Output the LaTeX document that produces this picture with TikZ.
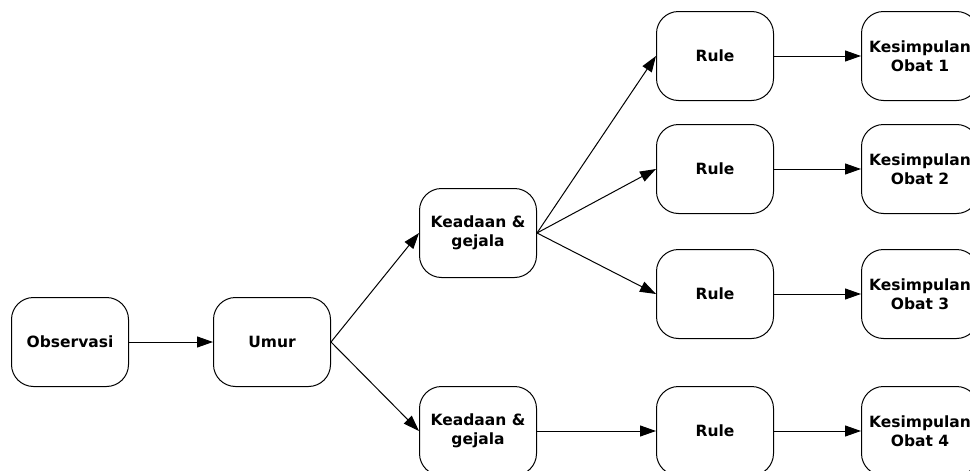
\documentclass[tikz,border=0pt]{standalone}
\usepackage{fontspec}
\setmainfont{DejaVu Sans}
\usetikzlibrary{arrows.meta}
\begin{document}
\begin{tikzpicture}[x=1pt,y=-1pt,
  box/.style={draw=black, line width=1pt, rounded corners=22pt,
    minimum width=117pt, minimum height=89pt, align=center,
    font=\bfseries\fontsize{15.5}{19}\selectfont, inner sep=0pt},
  arr/.style={draw=black, line width=1pt, -{Triangle[length=16pt,width=11pt]}}]
\useasboundingbox (0,0) rectangle (970,471);
\node[box] (obs) at (70,342) {Observasi};
\node[box] (umur) at (272,342) {Umur};
\node[box] (k1) at (478,233) {Keadaan \&\\gejala};
\node[box] (k2) at (478,431) {Keadaan \&\\gejala};
\node[box] (r1) at (715,56) {Rule};
\node[box] (r2) at (715,169) {Rule};
\node[box] (r3) at (715,294) {Rule};
\node[box] (r4) at (715,431) {Rule};
\node[box] (s1) at (920,56) {Kesimpulan\\Obat 1};
\node[box] (s2) at (920,169) {Kesimpulan\\Obat 2};
\node[box] (s3) at (920,294) {Kesimpulan\\Obat 3};
\node[box] (s4) at (920,431) {Kesimpulan\\Obat 4};
\draw[arr] (obs.east) -- (umur.west);
\draw[arr] (umur.east) -- (k1.west);
\draw[arr] (umur.east) -- (k2.west);
\draw[arr] (k1.east) -- (r1.west);
\draw[arr] (k1.east) -- (r2.west);
\draw[arr] (k1.east) -- (r3.west);
\draw[arr] (k2.east) -- (r4.west);
\draw[arr] (r1.east) -- (s1.west);
\draw[arr] (r2.east) -- (s2.west);
\draw[arr] (r3.east) -- (s3.west);
\draw[arr] (r4.east) -- (s4.west);
\end{tikzpicture}
\end{document}
